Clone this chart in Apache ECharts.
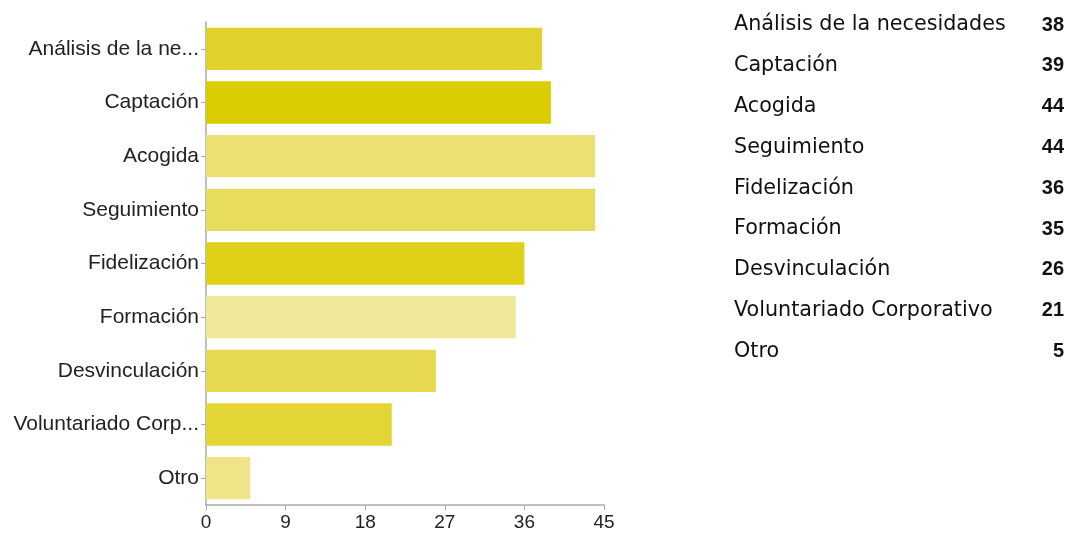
<!DOCTYPE html>
<html>
<head>
<meta charset="utf-8">
<script src="https://cdn.jsdelivr.net/npm/echarts@6/dist/echarts.min.js"></script>
<style>
  html, body { margin: 0; padding: 0; background: #fff; }
  #chart { width: 1072px; height: 534px; }
</style>
</head>
<body>
<div id="chart"></div>
<script>
  // categories, top to bottom
  var categories = ['Análisis de la necesidades', 'Captación', 'Acogida', 'Seguimiento',
    'Fidelización', 'Formación', 'Desvinculación', 'Voluntariado Corporativo', 'Otro']
  var counts = [38, 39, 44, 44, 36, 35, 26, 21, 5]
  var barColors = ['#e0d22a', '#dccc02', '#ebe173', '#e7dc5e', '#e0d017',
    '#efe898', '#e6d950', '#e2d535', '#efe487']
  var xTicks = [0, 9, 18, 27, 36, 45]

  var chart = echarts.init(document.getElementById('chart'))

  // right-hand table, one row per category
  var table = []
  categories.forEach(function (name, i) {
    var y = 25 + i * 40.8
    table.push({
      type: 'text', x: 734, y: y,
      style: { text: name, font: '20.7px "DejaVu Sans"', fill: '#111', textAlign: 'left', textVerticalAlign: 'middle' }
    })
    table.push({
      type: 'text', x: 1064, y: y,
      style: { text: String(counts[i]), font: 'bold 20px "Liberation Sans"', fill: '#111', textAlign: 'right', textVerticalAlign: 'middle' }
    })
  })

  chart.setOption({
    animation: false,
    grid: { left: 206, top: 22, right: 468, bottom: 29, containLabel: false },
    xAxis: {
      type: 'value',
      min: xTicks[0],
      max: xTicks[xTicks.length - 1],
      interval: 9,
      splitLine: { show: false },
      axisLine: { show: true, lineStyle: { color: '#aaa', width: 1.5 } },
      axisTick: { show: true, length: 5, lineStyle: { color: '#aaa' } },
      axisLabel: { color: '#222', fontSize: 19, fontFamily: 'Liberation Sans', margin: 8 }
    },
    yAxis: {
      type: 'category',
      inverse: true,
      data: categories,
      axisLine: { show: true, lineStyle: { color: '#aaa', width: 1.5 } },
      axisTick: { show: true, length: 5, alignWithLabel: true, lineStyle: { color: '#aaa' } },
      axisLabel: {
        color: '#222', fontSize: 21, fontFamily: 'Liberation Sans', margin: 7,
        formatter: function (v) {
          return v.length > 18 ? v.slice(0, 17) + '...' : v
        }
      }
    },
    series: [{
      type: 'bar',
      barCategoryGap: '21%',
      data: counts.map(function (v, i) {
        return { value: v, itemStyle: { color: barColors[i] } }
      })
    }],
    graphic: table
  })
</script>
</body>
</html>
